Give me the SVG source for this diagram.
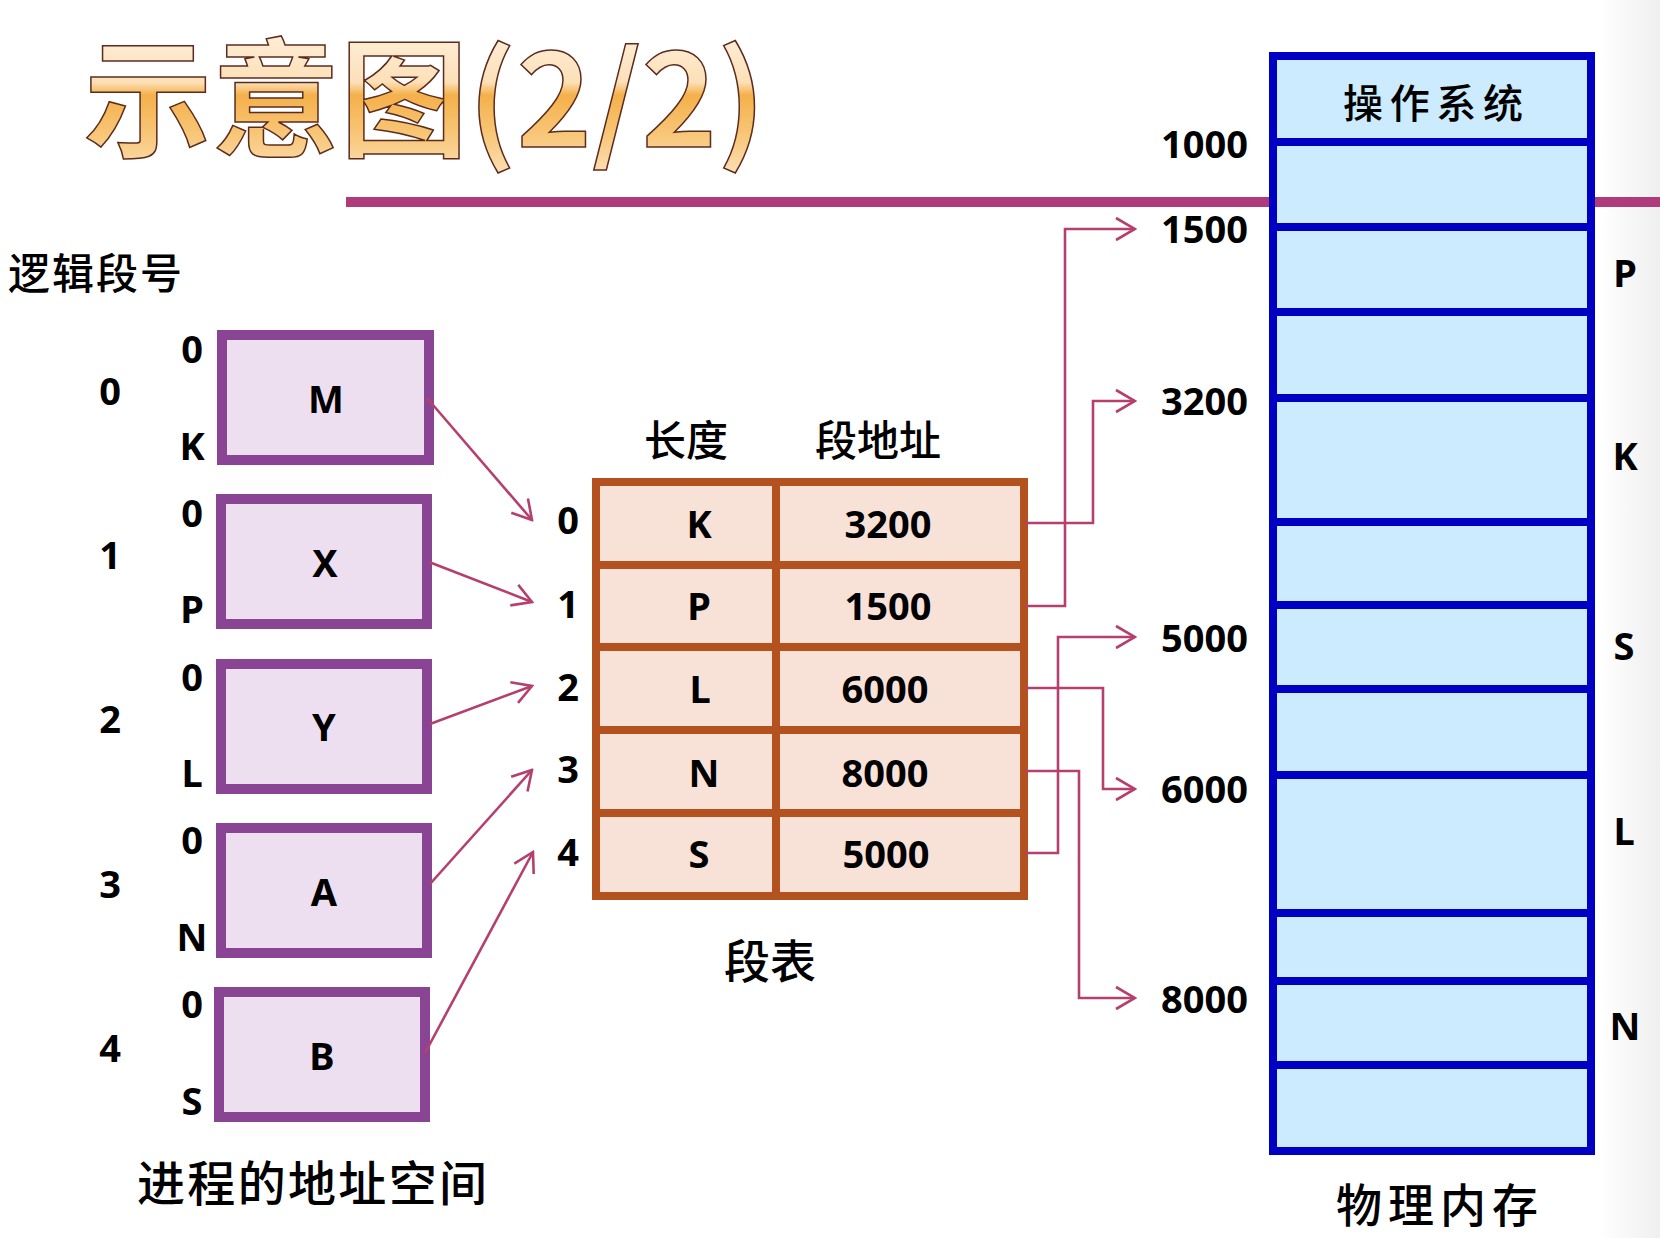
<svg xmlns="http://www.w3.org/2000/svg" width="1660" height="1238" viewBox="0 0 1660 1238">
  <defs>
    <linearGradient id="titleFill" x1="0" y1="0" x2="0" y2="1">
      <stop offset="0" stop-color="#FFF8EE"/>
      <stop offset="0.45" stop-color="#FCE0B8"/>
      <stop offset="0.52" stop-color="#F4B04A"/>
      <stop offset="0.75" stop-color="#F8C87C"/>
      <stop offset="1" stop-color="#FDE6C6"/>
    </linearGradient>
    <linearGradient id="edgeShade" x1="0" y1="0" x2="1" y2="0">
      <stop offset="0" stop-color="#FFFFFF"/>
      <stop offset="1" stop-color="#EFEFEF"/>
    </linearGradient>
    <marker id="chev" viewBox="-22 -13 24 26" refX="0" refY="0" markerWidth="24" markerHeight="26" markerUnits="userSpaceOnUse" orient="auto">
      <path d="M-19,-11 L0,0 L-19,11" fill="none" stroke="#B5406E" stroke-width="2.6"/>
    </marker>
    <style>
      .title { font-family: "Noto Sans CJK SC", sans-serif; font-size: 128px; font-weight: bold; fill: url(#titleFill); stroke: #5B2B1E; stroke-width: 1.5; }
      .cjk { font-family: "Noto Sans CJK SC", sans-serif; font-weight: 500; fill: #000; }
      .lbl { font-family: "Noto Sans", "Liberation Sans", sans-serif; font-weight: bold; font-size: 38px; fill: #000; }
      .mid { text-anchor: middle; }
      .end { text-anchor: end; }
      .seg { fill: #EEDFF0; stroke: #894594; stroke-width: 10; }
      .tbl { fill: #F8E2D8; stroke: #B3521F; stroke-width: 8; }
      .tline { stroke: #B3521F; stroke-width: 8; }
      .mem { fill: #CCEBFF; stroke: #0000C4; stroke-width: 8; }
      .mline { stroke: #0000C4; stroke-width: 8; }
      .conn { fill: none; stroke: #B5406E; stroke-width: 2.6; marker-end: url(#chev); }
    </style>
  </defs>

  <rect width="1660" height="1238" fill="#FFFFFF"/>
  <rect x="1600" y="0" width="60" height="1238" fill="url(#edgeShade)"/>

  <!-- heading and rule -->
  <text class="title" x="84" y="147">示意图(2/2)</text>
  <rect x="346" y="197" width="1314" height="10" fill="#AF3B7B"/>

  <!-- logical address space -->
  <text class="cjk" x="8" y="270" font-size="42" dominant-baseline="central" textLength="174" lengthAdjust="spacing">逻辑段号</text>

  <g id="seg0">
    <rect class="seg" x="222" y="335" width="207" height="125"/>
    <text class="lbl mid" x="326" y="413">M</text>
    <text class="lbl mid" x="110" y="405">0</text>
    <text class="lbl mid" x="192" y="363">0</text>
    <text class="lbl mid" x="192" y="460">K</text>
  </g>
  <g id="seg1">
    <rect class="seg" x="221" y="499" width="206" height="125"/>
    <text class="lbl mid" x="325" y="577">X</text>
    <text class="lbl mid" x="110" y="569">1</text>
    <text class="lbl mid" x="192" y="527">0</text>
    <text class="lbl mid" x="192" y="623">P</text>
  </g>
  <g id="seg2">
    <rect class="seg" x="221" y="664" width="206" height="125"/>
    <text class="lbl mid" x="324" y="741">Y</text>
    <text class="lbl mid" x="110" y="733">2</text>
    <text class="lbl mid" x="192" y="691">0</text>
    <text class="lbl mid" x="192" y="787">L</text>
  </g>
  <g id="seg3">
    <rect class="seg" x="221" y="828" width="206" height="125"/>
    <text class="lbl mid" x="324" y="906">A</text>
    <text class="lbl mid" x="110" y="898">3</text>
    <text class="lbl mid" x="192" y="854">0</text>
    <text class="lbl mid" x="192" y="951">N</text>
  </g>
  <g id="seg4">
    <rect class="seg" x="219" y="992" width="206" height="125"/>
    <text class="lbl mid" x="322" y="1070">B</text>
    <text class="lbl mid" x="110" y="1062">4</text>
    <text class="lbl mid" x="192" y="1018">0</text>
    <text class="lbl mid" x="192" y="1115">S</text>
  </g>

  <text class="cjk" x="137" y="1180" font-size="48" dominant-baseline="central" textLength="350" lengthAdjust="spacing">进程的地址空间</text>

  <!-- segment table -->
  <g id="segtable">
    <text class="cjk mid" x="686" y="437" font-size="42" dominant-baseline="central">长度</text>
    <text class="cjk mid" x="878" y="437" font-size="42" dominant-baseline="central">段地址</text>
    <rect class="tbl" x="596" y="482" width="428" height="414"/>
    <line class="tline" x1="776" y1="482" x2="776" y2="896"/>
    <line class="tline" x1="596" y1="565" x2="1024" y2="565"/>
    <line class="tline" x1="596" y1="647" x2="1024" y2="647"/>
    <line class="tline" x1="596" y1="730" x2="1024" y2="730"/>
    <line class="tline" x1="596" y1="813" x2="1024" y2="813"/>

    <text class="lbl mid" x="568" y="534">0</text>
    <text class="lbl mid" x="568" y="618">1</text>
    <text class="lbl mid" x="568" y="701">2</text>
    <text class="lbl mid" x="568" y="783">3</text>
    <text class="lbl mid" x="568" y="866">4</text>

    <text class="lbl mid" x="699" y="538">K</text>
    <text class="lbl mid" x="699" y="620">P</text>
    <text class="lbl mid" x="700" y="703">L</text>
    <text class="lbl mid" x="704" y="787">N</text>
    <text class="lbl mid" x="699" y="868">S</text>

    <text class="lbl mid" x="888" y="538">3200</text>
    <text class="lbl mid" x="888" y="620">1500</text>
    <text class="lbl mid" x="885" y="703">6000</text>
    <text class="lbl mid" x="885" y="787">8000</text>
    <text class="lbl mid" x="886" y="868">5000</text>
    <text class="cjk mid" x="770" y="958" font-size="46" dominant-baseline="central">段表</text>
  </g>

  <!-- physical memory -->
  <g id="memory">
    <rect class="mem" x="1273" y="56" width="318" height="1095"/>
    <line class="mline" x1="1273" y1="142" x2="1591" y2="142"/>
    <line class="mline" x1="1273" y1="227" x2="1591" y2="227"/>
    <line class="mline" x1="1273" y1="312" x2="1591" y2="312"/>
    <line class="mline" x1="1273" y1="398" x2="1591" y2="398"/>
    <line class="mline" x1="1273" y1="522" x2="1591" y2="522"/>
    <line class="mline" x1="1273" y1="605" x2="1591" y2="605"/>
    <line class="mline" x1="1273" y1="689" x2="1591" y2="689"/>
    <line class="mline" x1="1273" y1="775" x2="1591" y2="775"/>
    <line class="mline" x1="1273" y1="913" x2="1591" y2="913"/>
    <line class="mline" x1="1273" y1="981" x2="1591" y2="981"/>
    <line class="mline" x1="1273" y1="1065" x2="1591" y2="1065"/>
    <text class="cjk mid" x="1433" y="101" font-size="40" dominant-baseline="central" textLength="180" lengthAdjust="spacing">操作系统</text>

    <text class="lbl end" x="1248" y="158">1000</text>
    <text class="lbl end" x="1248" y="243">1500</text>
    <text class="lbl end" x="1248" y="415">3200</text>
    <text class="lbl end" x="1248" y="652">5000</text>
    <text class="lbl end" x="1248" y="803">6000</text>
    <text class="lbl end" x="1248" y="1013">8000</text>

    <text class="lbl mid" x="1625" y="287">P</text>
    <text class="lbl mid" x="1625" y="470">K</text>
    <text class="lbl mid" x="1624" y="660">S</text>
    <text class="lbl mid" x="1624" y="845">L</text>
    <text class="lbl mid" x="1625" y="1040">N</text>

    <text class="cjk mid" x="1437" y="1202" font-size="46" dominant-baseline="central" textLength="202" lengthAdjust="spacing">物理内存</text>
  </g>

  <!-- connectors -->
  <g id="connectors">
    <line class="conn" x1="427" y1="398" x2="532" y2="520"/>
    <line class="conn" x1="429" y1="562" x2="532" y2="602"/>
    <line class="conn" x1="430" y1="724" x2="532" y2="686"/>
    <line class="conn" x1="430" y1="884" x2="532" y2="770"/>
    <line class="conn" x1="425" y1="1053" x2="533" y2="852"/>

    <polyline class="conn" points="1025,523 1093,523 1093,401 1135,401"/>
    <polyline class="conn" points="1025,606 1065,606 1065,229 1135,229"/>
    <polyline class="conn" points="1025,688 1103,688 1103,789 1135,789"/>
    <polyline class="conn" points="1025,771 1079,771 1079,998 1135,998"/>
    <polyline class="conn" points="1025,853 1058,853 1058,637 1135,637"/>
  </g>
</svg>
